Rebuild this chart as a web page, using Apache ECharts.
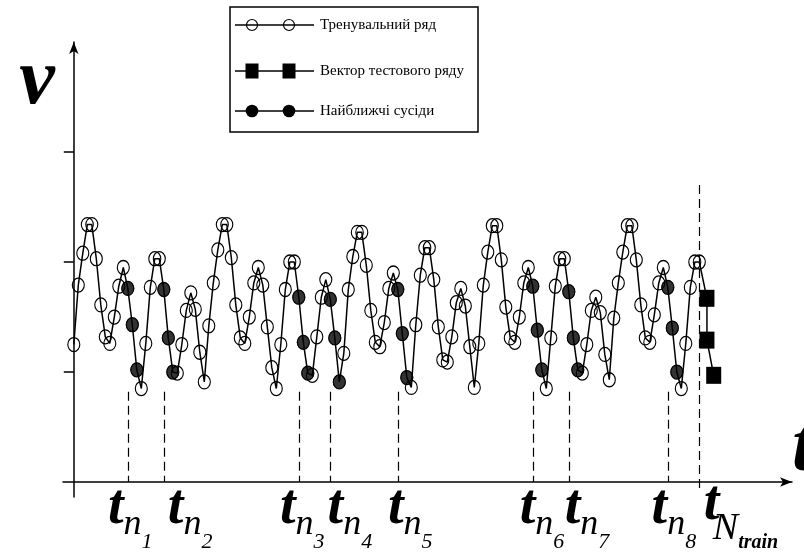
<!DOCTYPE html>
<html>
<head>
<meta charset="utf-8">
<script src="https://cdn.jsdelivr.net/npm/echarts@6/dist/echarts.min.js"></script>
<style>
  html, body { margin: 0; background: #fff; }
  #chart { width: 804px; height: 555px; }
</style>
</head>
<body>
<div id="chart"></div>
<script>
// тренувальний ряд, одне значення на крок часу (t = 0 .. 139)
const trainValues = [
  1.25, 1.79, 2.08, 2.34, 2.34, 2.03, 1.61, 1.32, 1.26, 1.50,
  1.78, 1.95, 1.76, 1.43, 1.02, 0.85, 1.26, 1.77, 2.03, 2.03,
  1.75, 1.31, 1.00, 0.99, 1.25, 1.56, 1.72, 1.57, 1.18, 0.91,
  1.42, 1.81, 2.11, 2.34, 2.34, 2.04, 1.61, 1.31, 1.26, 1.50,
  1.81, 1.95, 1.79, 1.41, 1.04, 0.85, 1.25, 1.75, 2.00, 2.00,
  1.68, 1.27, 0.99, 0.97, 1.32, 1.68, 1.84, 1.66, 1.31, 0.91,
  1.17, 1.75, 2.05, 2.27, 2.27, 1.97, 1.56, 1.27, 1.23, 1.45,
  1.76, 1.90, 1.75, 1.35, 0.95, 0.86, 1.43, 1.88, 2.13, 2.13,
  1.84, 1.41, 1.11, 1.09, 1.32, 1.63, 1.76, 1.60, 1.23, 0.86,
  1.26, 1.79, 2.09, 2.33, 2.33, 2.02, 1.59, 1.31, 1.27, 1.50,
  1.81, 1.95, 1.78, 1.38, 1.02, 0.85, 1.31, 1.78, 2.03, 2.03,
  1.73, 1.31, 1.02, 0.99, 1.25, 1.56, 1.68, 1.54, 1.16, 0.93,
  1.49, 1.81, 2.09, 2.33, 2.33, 2.02, 1.61, 1.31, 1.27, 1.52,
  1.81, 1.95, 1.77, 1.40, 1.00, 0.85, 1.26, 1.77, 2.00, 2.00
]
// початки найближчих сусідів (t_n1 .. t_n8), кожен сусід = 3 точки
const neighborStarts = [12, 20, 50, 57, 72, 102, 110, 132]
const neighborLen = 3
const trainEnd = 139 // t_Ntrain
// вектор тестового ряду
const testTimes = [140.7, 140.7, 142.2]
const testValues = [1.67, 1.29, 0.97]
// поділки осі v
const yTicks = [1, 2, 3]
// підписи під віссю t
const tickLabelAt = [7.6, 20.9, 45.8, 56.4, 69.8, 99.1, 109.1, 128.4, 140]
const tickLabelSub = ['1', '2', '3', '4', '5', '6', '7', '8', 'train']
const seriesNames = ['Тренувальний ряд', 'Вектор тестового ряду', 'Найближчі сусіди']

const serif = '"Liberation Serif", "Times New Roman", serif'

const trainData = trainValues.map((v, i) => [i, v])
const neighborData = []
neighborStarts.forEach(s => {
  for (let k = 0; k < neighborLen; k++) {
    neighborData.push([s + k, trainValues[s + k]])
  }
})
const testData = [{ value: [trainEnd, trainValues[trainEnd]], symbol: 'none' }]
testTimes.forEach((t, i) => testData.push([t, testValues[i]]))

// пунктирні вертикалі
const dashLines = neighborStarts.map(s => [{ coord: [s, 0.82] }, { coord: [s, 0] }])
dashLines.push([{ coord: [trainEnd, 2.7] }, { coord: [trainEnd, -0.07] }])

// легенда малюється вручну (дві позначки на лінії, як в оригіналі)
const legendRows = [25, 71, 111]
const legendGraphic = [{
  type: 'rect',
  shape: { x: 230, y: 7, width: 248, height: 125 },
  style: { fill: '#fff', stroke: '#000', lineWidth: 1.5 },
  z: 100
}]
legendRows.forEach((y, r) => {
  legendGraphic.push({
    type: 'line', shape: { x1: 235, y1: y, x2: 314, y2: y },
    style: { stroke: '#000', lineWidth: 1.5 }, z: 101
  })
  ;[252, 289].forEach(cx => {
    if (r === 0) {
      legendGraphic.push({ type: 'circle', shape: { cx: cx, cy: y, r: 5.5 },
        style: { fill: 'none', stroke: '#000', lineWidth: 1.2 }, z: 102 })
    } else if (r === 1) {
      legendGraphic.push({ type: 'rect', shape: { x: cx - 6.5, y: y - 7.5, width: 13, height: 15 },
        style: { fill: '#000' }, z: 102 })
    } else {
      legendGraphic.push({ type: 'circle', shape: { cx: cx, cy: y, r: 6.3 },
        style: { fill: '#000' }, z: 102 })
    }
  })
  legendGraphic.push({
    type: 'text', x: 320, y: y,
    style: { text: seriesNames[r], fontFamily: serif, fontSize: 15, fill: '#000', verticalAlign: 'middle' },
    z: 102
  })
})

const chart = echarts.init(document.getElementById('chart'))
chart.setOption({
  animation: false,
  backgroundColor: '#fff',
  grid: { left: 63, right: 12, top: 42, bottom: 58, containLabel: false, outerBoundsMode: 'none' },
  xAxis: {
    type: 'value',
    min: -2.4,
    max: 159.6,
    axisLine: {
      onZero: true,
      symbol: ['none', 'arrow'],
      symbolSize: [7, 12],
      lineStyle: { color: '#000', width: 1.5 }
    },
    axisTick: { show: false },
    splitLine: { show: false },
    axisLabel: {
      customValues: tickLabelAt,
      margin: 0,
      align: 'left',
      color: '#000',
      formatter: function (val) {
        let i = tickLabelAt.indexOf(val)
        if (i < 0) return ''
        if (tickLabelSub[i] === 'train') return '{tN|t}{N|N}{tr|train}'
        return '{t|t}{n|n}{s|' + tickLabelSub[i] + '}'
      },
      rich: {
        t: { fontFamily: serif, fontSize: 56, fontStyle: 'italic', fontWeight: 'bold', lineHeight: 56,
          verticalAlign: 'bottom', padding: [0, 0, 16, 0], color: '#000' },
        tN: { fontFamily: serif, fontSize: 56, fontStyle: 'italic', fontWeight: 'bold', lineHeight: 56,
          width: 9, verticalAlign: 'bottom', padding: [0, 0, 20, 0], color: '#000' },
        n: { fontFamily: serif, fontSize: 36, fontStyle: 'italic', lineHeight: 36,
          verticalAlign: 'bottom', padding: [0, 0, 10, 0], color: '#000' },
        s: { fontFamily: serif, fontSize: 22, fontStyle: 'italic', lineHeight: 22,
          verticalAlign: 'bottom', padding: [0, 0, 0, 0], color: '#000' },
        N: { fontFamily: serif, fontSize: 38, fontStyle: 'italic', lineHeight: 38,
          verticalAlign: 'bottom', padding: [0, 0, 5, 0], color: '#000' },
        tr: { fontFamily: serif, fontSize: 20, fontStyle: 'italic', fontWeight: 'bold', lineHeight: 20,
          verticalAlign: 'bottom', padding: [0, 0, 0, 0], color: '#000' }
      }
    },
    name: 't',
    nameLocation: 'end',
    nameGap: 0,
    nameTextStyle: {
      fontFamily: serif, fontSize: 80, fontStyle: 'italic', fontWeight: 'bold', color: '#000',
      lineHeight: 66, align: 'left', verticalAlign: 'bottom', padding: [0, 0, 0, 0]
    }
  },
  yAxis: {
    type: 'value',
    min: -0.136,
    max: 4,
    axisLine: {
      onZero: true,
      symbol: ['none', 'arrow'],
      symbolSize: [7, 12],
      lineStyle: { color: '#000', width: 1.5 }
    },
    axisTick: { customValues: yTicks, length: 10, lineStyle: { color: '#000', width: 1.5 } },
    axisLabel: { show: false },
    splitLine: { show: false },
    name: 'v',
    nameLocation: 'end',
    nameGap: -40,
    nameTextStyle: {
      fontFamily: serif, fontSize: 80, fontStyle: 'italic', fontWeight: 'bold', color: '#000',
      lineHeight: 80, align: 'right', verticalAlign: 'middle', padding: [0, 19, 0, 0]
    }
  },
  graphic: legendGraphic,
  series: [
    {
      name: seriesNames[0],
      type: 'line',
      data: trainData,
      symbol: 'circle',
      symbolSize: [12, 14],
      showAllSymbol: true,
      itemStyle: { color: 'rgba(0,0,0,0)', borderColor: '#000', borderWidth: 1.2 },
      lineStyle: { color: '#000', width: 1.5 },
      emphasis: { disabled: true },
      z: 2
    },
    {
      name: seriesNames[2],
      type: 'scatter',
      data: neighborData,
      symbol: 'circle',
      symbolSize: [13, 14],
      itemStyle: { color: '#000' },
      emphasis: { disabled: true },
      markLine: {
        silent: true,
        symbol: ['none', 'none'],
        label: { show: false },
        lineStyle: { color: '#000', width: 1.2, type: [9, 5] },
        data: dashLines
      },
      z: 3
    },
    {
      name: seriesNames[1],
      type: 'line',
      data: testData,
      symbol: 'rect',
      symbolSize: [15, 17],
      itemStyle: { color: '#000' },
      lineStyle: { color: '#000', width: 1.5 },
      emphasis: { disabled: true },
      z: 4
    }
  ]
})
</script>
</body>
</html>
